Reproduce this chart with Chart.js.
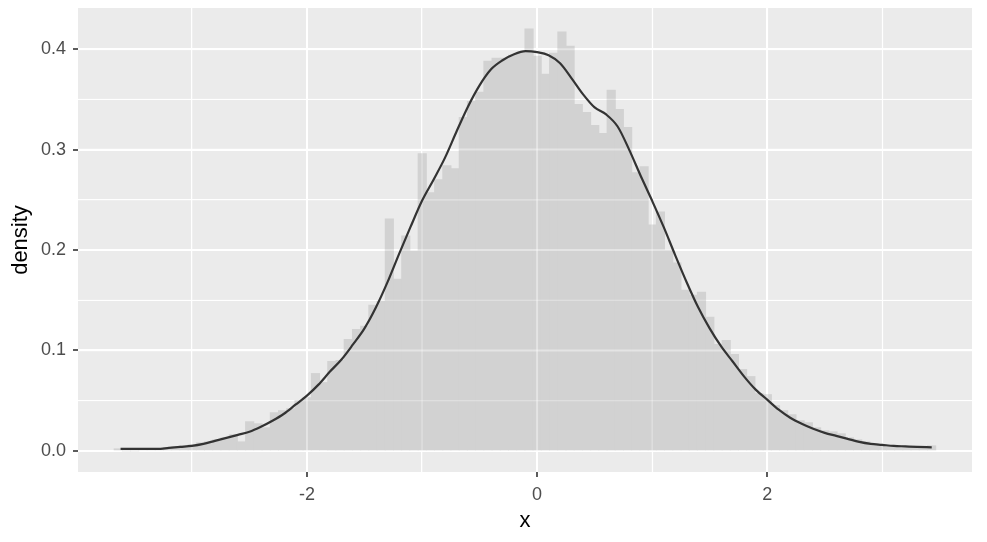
<!DOCTYPE html>
<html>
<head>
<meta charset="utf-8">
<script src="https://cdn.jsdelivr.net/npm/chart.js@4/dist/chart.umd.min.js"></script>
<style>
  html, body { margin: 0; padding: 0; background: #ffffff; }
  #wrap { width: 987px; height: 542px; }
</style>
</head>
<body>
<div id="wrap"><canvas id="chart" width="987" height="542"></canvas></div>
<script>
// histogram bins (centres) and their densities
const binCenters = [
  -3.640, -3.569, -3.497, -3.426, -3.354, -3.283, -3.212, -3.140, -3.069, -2.997,
  -2.926, -2.855, -2.783, -2.712, -2.640, -2.569, -2.498, -2.426, -2.355, -2.283,
  -2.212, -2.141, -2.069, -1.998, -1.926, -1.855, -1.784, -1.712, -1.641, -1.569,
  -1.498, -1.427, -1.355, -1.284, -1.212, -1.141, -1.070, -0.998, -0.927, -0.855,
  -0.784, -0.713, -0.641, -0.570, -0.498, -0.427, -0.356, -0.284, -0.213, -0.141,
  -0.070, 0.001, 0.073, 0.144, 0.216, 0.287, 0.358, 0.430, 0.501, 0.573,
  0.644, 0.715, 0.787, 0.858, 0.930, 1.001, 1.072, 1.144, 1.215, 1.287,
  1.358, 1.429, 1.501, 1.572, 1.644, 1.715, 1.786, 1.858, 1.929, 2.001,
  2.072, 2.143, 2.215, 2.286, 2.358, 2.429, 2.500, 2.572, 2.643, 2.715,
  2.786, 2.857, 2.929, 3.000, 3.072, 3.143, 3.215, 3.286, 3.357, 3.429
];
const binDensity = [
  0.002, 0, 0, 0.001, 0.001, 0.002, 0.003, 0.004, 0.005, 0.006,
  0.008, 0.009, 0.011, 0.013, 0.016, 0.009, 0.029, 0.027, 0.023, 0.038,
  0.040, 0.042, 0.050, 0.053, 0.077, 0.068, 0.089, 0.090, 0.111, 0.121,
  0.124, 0.145, 0.149, 0.231, 0.171, 0.214, 0.199, 0.296, 0.257, 0.270,
  0.284, 0.281, 0.332, 0.348, 0.357, 0.388, 0.391, 0.391, 0.394, 0.397,
  0.420, 0.393, 0.375, 0.396, 0.417, 0.403, 0.345, 0.337, 0.324, 0.316,
  0.359, 0.340, 0.322, 0.277, 0.283, 0.225, 0.238, 0.200, 0.187, 0.160,
  0.155, 0.158, 0.133, 0.106, 0.110, 0.096, 0.081, 0.074, 0.057, 0.056,
  0.045, 0.040, 0.036, 0.030, 0.028, 0.023, 0.020, 0.019, 0.017, 0.013,
  0.011, 0.009, 0.007, 0.006, 0.005, 0.005, 0.004, 0.004, 0.003, 0.005
];

// kernel density curve
const densX = [
  -3.62, -3.5, -3.4, -3.3, -3.2, -3.1, -3.0, -2.9, -2.8, -2.7,
  -2.6, -2.5, -2.4, -2.3, -2.2, -2.1, -2.0, -1.9, -1.8, -1.7,
  -1.6, -1.5, -1.4, -1.3, -1.2, -1.1, -1.0, -0.9, -0.8, -0.7,
  -0.6, -0.5, -0.4, -0.3, -0.2, -0.1, 0.0, 0.1, 0.2, 0.3,
  0.4, 0.5, 0.6, 0.7, 0.8, 0.9, 1.0, 1.1, 1.2, 1.3,
  1.4, 1.5, 1.6, 1.7, 1.8, 1.9, 2.0, 2.1, 2.2, 2.3,
  2.4, 2.5, 2.6, 2.7, 2.8, 2.9, 3.0, 3.1, 3.2, 3.3, 3.43
];
const densY = [
  0.002, 0.002, 0.002, 0.002, 0.003, 0.004, 0.005, 0.007, 0.010, 0.013,
  0.016, 0.019, 0.024, 0.030, 0.037, 0.046, 0.055, 0.066, 0.079, 0.091,
  0.106, 0.122, 0.143, 0.168, 0.196, 0.223, 0.249, 0.270, 0.292, 0.318,
  0.343, 0.364, 0.380, 0.389, 0.395, 0.398, 0.397, 0.394, 0.386, 0.371,
  0.355, 0.342, 0.335, 0.323, 0.300, 0.274, 0.249, 0.223, 0.195, 0.168,
  0.143, 0.122, 0.104, 0.089, 0.074, 0.061, 0.051, 0.041, 0.033, 0.027,
  0.022, 0.018, 0.015, 0.012, 0.009, 0.007, 0.006, 0.005, 0.0045, 0.004, 0.0036
];

// axis ticks
const xMajor = [-2, 0, 2];
const xMinor = [-3, -1, 1, 3];
const yMajor = [0, 0.1, 0.2, 0.3, 0.4];
const yMinor = [0.05, 0.15, 0.25, 0.35];
const yLabels = ["0.0", "0.1", "0.2", "0.3", "0.4"];

document.addEventListener("DOMContentLoaded", () => {
  const FONT = "'Liberation Sans', Arial, sans-serif";

  const isMajor = (list, v) => list.some(m => Math.abs(m - v) < 1e-9);

  // grey ggplot panel behind everything
  const panelBg = {
    id: "panelBg",
    beforeDraw(chart) {
      const { ctx, chartArea: a } = chart;
      ctx.save();
      ctx.fillStyle = "#EBEBEB";
      ctx.fillRect(a.left, a.top, a.right - a.left, a.bottom - a.top);
      ctx.restore();
    }
  };

  // the bars are see-through in the original: let the grid shine faintly through them
  const gridThrough = {
    id: "gridThrough",
    afterDatasetDraw(chart, args) {
      if (args.index !== 1) return;
      const { ctx, chartArea: a, scales } = chart;
      ctx.save();
      ctx.beginPath();
      ctx.rect(a.left, a.top, a.right - a.left, a.bottom - a.top);
      ctx.clip();
      ctx.strokeStyle = "rgba(255,255,255,0.4)";
      xMinor.concat(xMajor).forEach(v => {
        const p = scales.x.getPixelForValue(v);
        ctx.lineWidth = isMajor(xMajor, v) ? 2 : 1.1;
        ctx.beginPath();
        ctx.moveTo(p, a.top);
        ctx.lineTo(p, a.bottom);
        ctx.stroke();
      });
      yMinor.concat(yMajor).forEach(v => {
        const p = scales.y.getPixelForValue(v);
        ctx.lineWidth = isMajor(yMajor, v) ? 2 : 1.1;
        ctx.beginPath();
        ctx.moveTo(a.left, p);
        ctx.lineTo(a.right, p);
        ctx.stroke();
      });
      ctx.restore();
    }
  };

  const gridFor = (major) => ({
    color: "#FFFFFF",
    lineWidth: c => (c.tick && isMajor(major, c.tick.value)) ? 2 : 1.1,
    tickLength: 5,
    tickWidth: 1.6,
    tickColor: c => (c.tick && isMajor(major, c.tick.value)) ? "#333333" : "rgba(0,0,0,0)",
    drawOnChartArea: true
  });

  const ctx = document.getElementById("chart").getContext("2d");
  new Chart(ctx, {
    type: "bar",
    data: {
      datasets: [
        {
          type: "line",
          data: densX.map((x, i) => ({ x: x, y: densY[i] })),
          borderColor: "#333333",
          borderWidth: 2.2,
          pointRadius: 0,
          cubicInterpolationMode: "monotone",
          fill: false,
          order: 0
        },
        {
          type: "bar",
          data: binCenters.map((x, i) => ({ x: x, y: binDensity[i] })),
          backgroundColor: "#D2D2D2",
          borderWidth: 0,
          inflateAmount: 0.5,
          barPercentage: 1.0,
          categoryPercentage: 1.0,
          order: 1
        }
      ]
    },
    options: {
      responsive: false,
      devicePixelRatio: 1,
      animation: false,
      layout: { padding: { top: 8, right: 15, left: 0, bottom: 0 } },
      plugins: {
        legend: { display: false },
        tooltip: { enabled: false }
      },
      scales: {
        x: {
          type: "linear",
          min: -3.99,
          max: 3.78,
          offset: false,
          border: { display: false },
          grid: Object.assign(gridFor(xMajor), { offset: false }),
          afterBuildTicks: axis => {
            axis.ticks = xMinor.concat(xMajor).sort((a, b) => a - b).map(v => ({ value: v }));
          },
          afterFit: axis => {
            axis.height = 70;
            axis.paddingLeft = 0;
            axis.paddingRight = 0;
          },
          ticks: {
            autoSkip: false,
            maxRotation: 0,
            padding: 7,
            color: "#4D4D4D",
            font: { family: FONT, size: 18 },
            callback: v => isMajor(xMajor, v) ? String(v) : ""
          },
          title: {
            display: true,
            text: "x",
            color: "#000000",
            font: { family: FONT, size: 22 },
            padding: { top: 0, bottom: 8 }
          }
        },
        y: {
          type: "linear",
          min: -0.021,
          max: 0.441,
          border: { display: false },
          grid: gridFor(yMajor),
          afterBuildTicks: axis => {
            axis.ticks = yMinor.concat(yMajor).sort((a, b) => a - b).map(v => ({ value: v }));
          },
          afterFit: axis => {
            axis.width = 78;
            axis.paddingTop = 0;
            axis.paddingBottom = 0;
          },
          ticks: {
            autoSkip: false,
            padding: 7,
            color: "#4D4D4D",
            font: { family: FONT, size: 18 },
            callback: v => {
              const i = yMajor.findIndex(m => Math.abs(m - v) < 1e-9);
              return i >= 0 ? yLabels[i] : "";
            }
          },
          title: {
            display: true,
            text: "density",
            color: "#000000",
            font: { family: FONT, size: 22 },
            padding: { top: 8, bottom: 0 }
          }
        }
      }
    },
    plugins: [panelBg, gridThrough]
  });
});
</script>
</body>
</html>
